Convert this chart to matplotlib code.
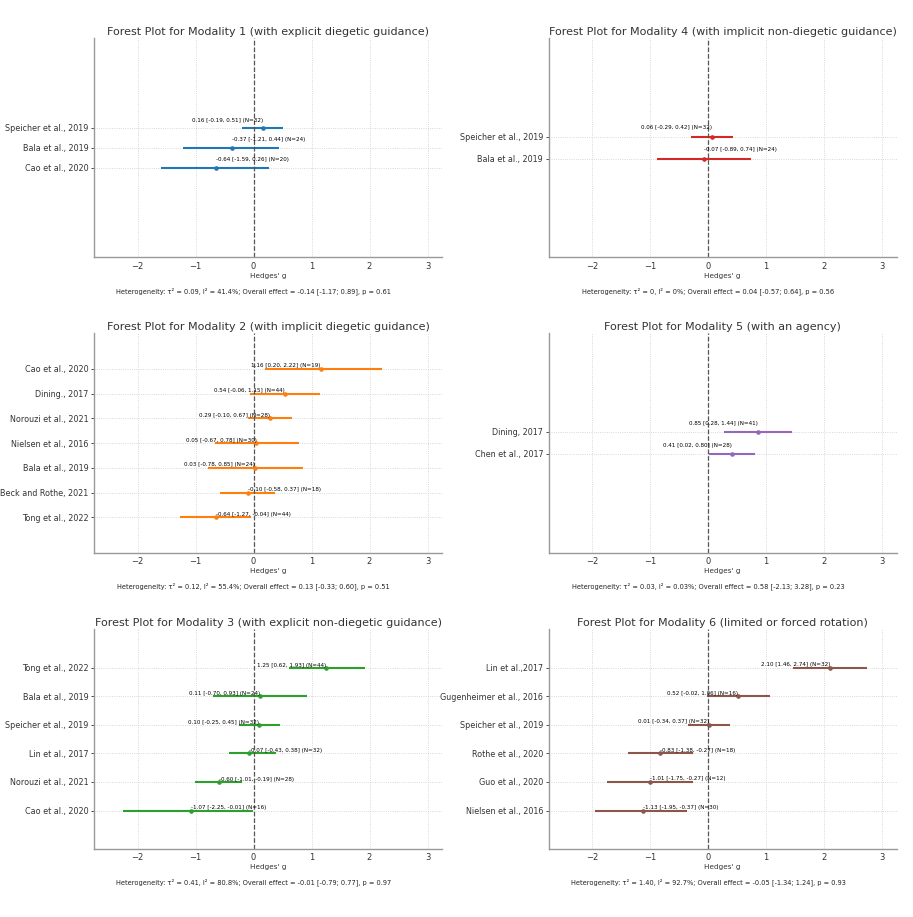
import numpy as np
import matplotlib
matplotlib.use("Agg")
import matplotlib.pyplot as plt
import matplotlib.transforms as mtransforms

# ---- data ----
titles = [
    "Forest Plot for Modality 1 (with explicit diegetic guidance)",
    "Forest Plot for Modality 2 (with implicit diegetic guidance)",
    "Forest Plot for Modality 3 (with explicit non-diegetic guidance)",
    "Forest Plot for Modality 4 (with implicit non-diegetic guidance)",
    "Forest Plot for Modality 5 (with an agency)",
    "Forest Plot for Modality 6 (limited or forced rotation)",
]

studies_m1 = ["Speicher et al., 2019", "Bala et al., 2019", "Cao et al., 2020"]
g_m1 = [0.16, -0.37, -0.64]
lo_m1 = [-0.19, -1.21, -1.59]
hi_m1 = [0.51, 0.44, 0.26]
n_m1 = [32, 24, 20]

studies_m2 = ["Cao et al., 2020", "Dining., 2017", "Norouzi et al., 2021", "Nielsen et al., 2016",
              "Bala et al., 2019", "Beck and Rothe, 2021", "Tong et al., 2022"]
g_m2 = [1.16, 0.54, 0.29, 0.05, 0.03, -0.10, -0.64]
lo_m2 = [0.20, -0.06, -0.10, -0.67, -0.78, -0.58, -1.27]
hi_m2 = [2.22, 1.15, 0.67, 0.78, 0.85, 0.37, -0.04]
n_m2 = [19, 44, 28, 30, 24, 18, 44]

studies_m3 = ["Tong et al., 2022", "Bala et al., 2019", "Speicher et al., 2019", "Lin et al., 2017",
              "Norouzi et al., 2021", "Cao et al., 2020"]
g_m3 = [1.25, 0.11, 0.10, -0.07, -0.60, -1.07]
lo_m3 = [0.62, -0.70, -0.25, -0.43, -1.01, -2.25]
hi_m3 = [1.93, 0.93, 0.45, 0.38, -0.19, -0.01]
n_m3 = [44, 24, 32, 32, 28, 16]

studies_m4 = ["Speicher et al., 2019", "Bala et al., 2019"]
g_m4 = [0.06, -0.07]
lo_m4 = [-0.29, -0.89]
hi_m4 = [0.42, 0.74]
n_m4 = [32, 24]

studies_m5 = ["Dining, 2017", "Chen et al., 2017"]
g_m5 = [0.85, 0.41]
lo_m5 = [0.28, 0.02]
hi_m5 = [1.44, 0.80]
n_m5 = [41, 28]

studies_m6 = ["Lin et al.,2017", "Gugenheimer et al., 2016", "Speicher et al., 2019", "Rothe et al., 2020",
              "Guo et al., 2020", "Nielsen et al., 2016"]
g_m6 = [2.10, 0.52, 0.01, -0.83, -1.01, -1.13]
lo_m6 = [1.46, -0.02, -0.34, -1.38, -1.75, -1.95]
hi_m6 = [2.74, 1.06, 0.37, -0.27, -0.27, -0.37]
n_m6 = [32, 16, 32, 18, 12, 30]

heterogeneity = [
    "Heterogeneity: τ² = 0.09, I² = 41.4%; Overall effect = -0.14 [-1.17; 0.89], p = 0.61",
    "Heterogeneity: τ² = 0.12, I² = 55.4%; Overall effect = 0.13 [-0.33; 0.60], p = 0.51",
    "Heterogeneity: τ² = 0.41, I² = 80.8%; Overall effect = -0.01 [-0.79; 0.77], p = 0.97",
    "Heterogeneity: τ² = 0, I² = 0%; Overall effect = 0.04 [-0.57; 0.64], p = 0.56",
    "Heterogeneity: τ² = 0.03, I² = 0.03%; Overall effect = 0.58 [-2.13; 3.28], p = 0.23",
    "Heterogeneity: τ² = 1.40, I² = 92.7%; Overall effect = -0.05 [-1.34; 1.24], p = 0.93",
]

modalities = [
    (studies_m1, g_m1, lo_m1, hi_m1, n_m1),
    (studies_m2, g_m2, lo_m2, hi_m2, n_m2),
    (studies_m3, g_m3, lo_m3, hi_m3, n_m3),
    (studies_m4, g_m4, lo_m4, hi_m4, n_m4),
    (studies_m5, g_m5, lo_m5, hi_m5, n_m5),
    (studies_m6, g_m6, lo_m6, hi_m6, n_m6),
]
colors = ["#1f77b4", "#ff7f0e", "#2ca02c", "#d62728", "#9467bd", "#8c564b"]

# ---- layout ----
W, H = 913, 917
fig = plt.figure(figsize=(W / 100, H / 100), dpi=100)

col_x = [94, 548.7]
ax_w = 348
row_top = [38, 333, 629]
ax_h = 219.5
ylims = {0: (-4.5, 6.5), 1: (-1.42, 7.45), 2: (-1.33, 6.36),
         3: (-4.5, 5.5), 4: (-4.5, 5.5), 5: (-1.33, 6.36)}
label_dy = {0: 3.8, 1: 0.3, 2: 0.2, 3: 4.6, 4: 4.2, 5: 0.4}

for i, (studies, g, lo, hi, ns) in enumerate(modalities):
    col = i // 3
    row = i % 3
    left = col_x[col] / W
    bottom = 1 - (row_top[row] + ax_h) / H
    ax = fig.add_axes([left, bottom, ax_w / W, ax_h / H])

    g = np.array(g)
    lo = np.array(lo)
    hi = np.array(hi)
    y = np.arange(len(studies))[::-1]

    ax.errorbar(g, y, xerr=[g - lo, hi - g], fmt="o", color=colors[i],
                ecolor=colors[i], elinewidth=1.5, markersize=2.3, capsize=0)
    ax.axvline(0, color="#555555", linestyle="--", linewidth=0.9)

    for yy, gg, l, h, n in zip(y, g, lo, hi, ns):
        txt = f"{gg:.2f} [{l:.2f}, {h:.2f}] (N={n})"
        ax.annotate(txt, (gg, yy), xytext=(0, label_dy[i]), textcoords="offset points",
                    ha="right" if gg > 0 else "left", va="bottom",
                    fontsize=4.1, color="black")

    ax.set_yticks(y)
    ax.set_yticklabels(studies)
    ax.set_xlim(-2.75, 3.25)
    ax.set_xticks([-2, -1, 0, 1, 2, 3])
    ax.set_ylim(*ylims[i])
    ax.set_title(titles[i], fontsize=8.0, color="#333333", pad=2.5)
    ax.set_xlabel("Hedges' g", fontsize=5.2, color="#333333", labelpad=2)

    ax.grid(True, linestyle=":", color="#cccccc", linewidth=0.6)
    ax.set_axisbelow(True)
    for s in ["top", "right"]:
        ax.spines[s].set_visible(False)
    for s in ["left", "bottom"]:
        ax.spines[s].set_color("#999999")
        ax.spines[s].set_linewidth(1.0)
    ax.tick_params(axis="y", labelsize=5.8, colors="#333333", length=2.5, width=0.6, pad=1.5)
    ax.tick_params(axis="x", labelsize=6, colors="#333333", length=0, pad=3)

    trans = mtransforms.blended_transform_factory(ax.transData, ax.transAxes)
    ax.text(0, -0.155, heterogeneity[i], transform=trans, ha="center", va="center",
            fontsize=4.75, color="#222222")

fig.savefig("out.png", dpi=100)
